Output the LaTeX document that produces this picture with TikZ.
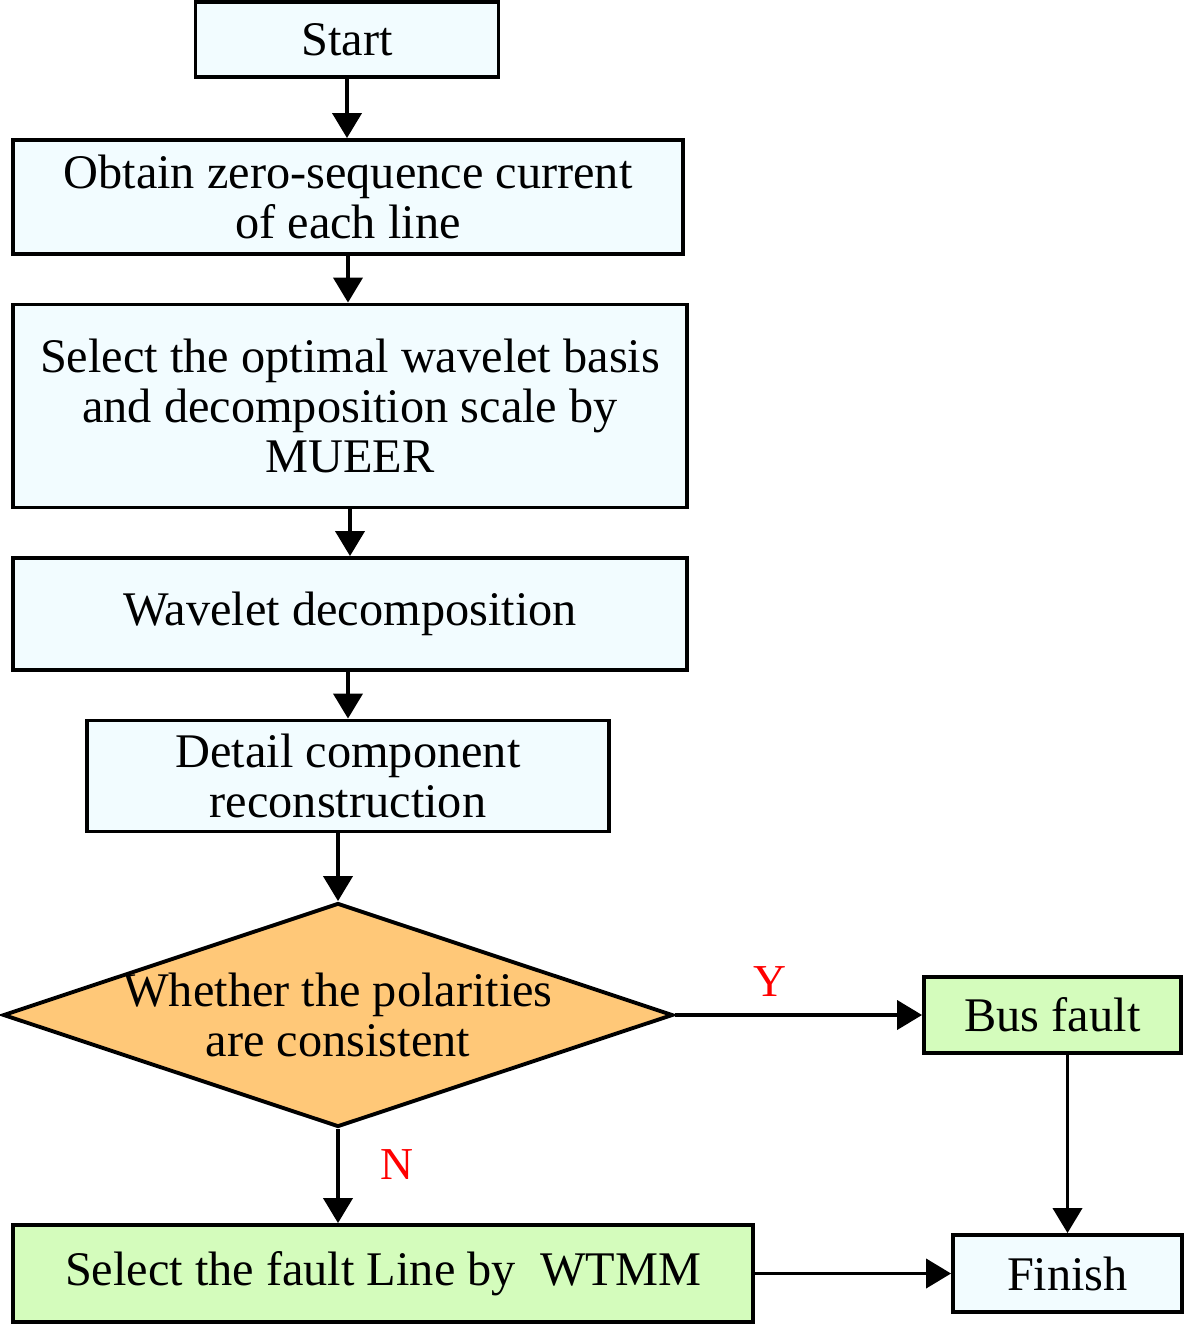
\documentclass[tikz,border=0pt]{standalone}
\usepackage{fontspec}
\setmainfont{Liberation Serif}
\usetikzlibrary{arrows.meta,shapes.geometric}

\definecolor{boxblue}{RGB}{242,252,255}
\definecolor{boxgreen}{RGB}{212,252,188}
\definecolor{boxorange}{RGB}{255,200,120}

\begin{document}
\begin{tikzpicture}[x=0.02cm, y=-0.02cm,
    font=\fontsize{27.5}{28.5}\selectfont, >={Triangle[length=0.5cm,width=0.58cm]},
    stepbox/.style={draw, line width=2.2pt, fill=boxblue, align=center, inner sep=0pt},
    endbox/.style={draw, line width=2.2pt, fill=boxgreen, align=center, inner sep=0pt},
    decision/.style={draw, line width=2.2pt, fill=boxorange, diamond, inner sep=0pt},
    flow/.style={->, line width=2.2pt},
    yn/.style={text=red, font=\fontsize{26}{28}\selectfont}]
    \useasboundingbox (0,0) rectangle (1184,1325);

    % Main column
    \node[stepbox, minimum width=6.06cm, minimum height=1.5cm] (start) at (347,39.5) {Start};
    \node[stepbox, minimum width=13.4cm, minimum height=2.28cm] (obtain) at (348,197)
        {Obtain zero-sequence current\\of each line};
    \node[stepbox, minimum width=13.48cm, minimum height=4.06cm] (basis) at (350,406)
        {Select the optimal wavelet basis\\and decomposition scale by\\MUEER};
    \node[stepbox, minimum width=13.48cm, minimum height=2.24cm] (decomp) at (350,614)
        {Wavelet decomposition};
    \node[stepbox, minimum width=10.44cm, minimum height=2.22cm] (detail) at (348,776)
        {Detail component\\reconstruction};

    % Decision
    \node[decision, minimum width=13.4cm, minimum height=4.48cm] (judge) at (338,1015) {};
    \node[align=center] (judgetxt) at (judge.center) {Whether the polarities\\are consistent};

    % Outcomes
    \node[endbox, minimum width=5.14cm, minimum height=1.52cm] (bus) at (1052.5,1015) {Bus fault};
    \node[endbox, minimum width=14.8cm, minimum height=1.94cm] (line) at (383,1273.5)
        {Select the fault Line by\ \ WTMM};
    \node[stepbox, minimum width=4.58cm, minimum height=1.54cm] (finish) at (1067.5,1273.5) {Finish};

    % Connectors
    \draw[flow] (start.south) -- (start.south |- obtain.north);
    \draw[flow] (obtain.south) -- (obtain.south |- basis.north);
    \draw[flow] (basis.south -| decomp.north) -- (decomp.north);
    \draw[flow] (decomp.south -| detail.north) -- (detail.north);
    \draw[flow] (detail.south -| judge.north) -- (judge.north);
    \draw[flow] (judge.east) -- (bus.west);
    \draw[flow] (judge.south) -- (judge.south |- line.north);
    \draw[flow] (finish.north |- bus.south) -- (finish.north);
    \draw[flow] (line.east) -- (finish.west);

    % Branch labels
    \node[yn] (yes) at (770,982) {Y};
    \node[yn] (no) at (397,1165) {N};
\end{tikzpicture}
\end{document}
